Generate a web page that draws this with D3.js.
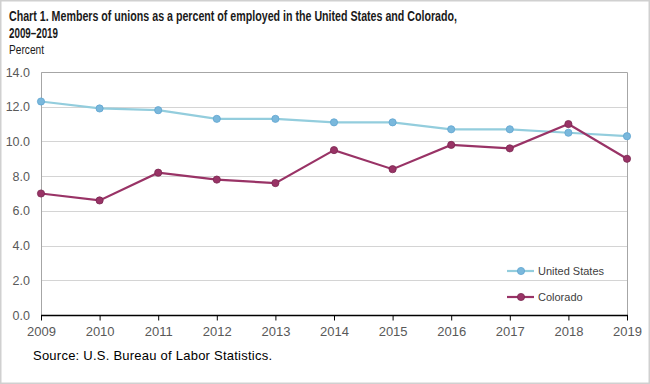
<!DOCTYPE html>
<html>
<head>
<meta charset="utf-8">
<script src="https://cdn.jsdelivr.net/npm/d3@7"></script>
<style>
  body { margin: 0; background: #fff; }
  svg { display: block; font-family: "Liberation Sans", Arial, sans-serif; }
</style>
</head>
<body>
<script>
var years = ["2009", "2010", "2011", "2012", "2013", "2014", "2015", "2016", "2017", "2018", "2019"];
var unitedStates = [12.3, 11.9, 11.8, 11.3, 11.3, 11.1, 11.1, 10.7, 10.7, 10.5, 10.3];
var colorado = [7.0, 6.6, 8.2, 7.8, 7.6, 9.5, 8.4, 9.8, 9.6, 11.0, 9.0];
var yTicks = [0, 2, 4, 6, 8, 10, 12, 14];

var series = [
  { name: "United States", values: unitedStates, color: "#93cddd", marker: "#7ab8dc", stroke: "#5fa4d0" },
  { name: "Colorado", values: colorado, color: "#993366", marker: "#993366", stroke: "#7a2850" }
];

var width = 650, height = 384;
var margin = { top: 72, right: 23, bottom: 69, left: 41 };

var svg = d3.select("body").append("svg")
    .attr("width", width)
    .attr("height", height);

// outer frame
svg.append("rect")
    .attr("x", 0.5).attr("y", 0.5)
    .attr("width", width - 1).attr("height", height - 1)
    .attr("fill", "none").attr("stroke", "#d0d0d0").attr("stroke-width", 2);

var x = d3.scalePoint()
    .domain(years)
    .range([margin.left, width - margin.right]);

var y = d3.scaleLinear()
    .domain([0, 14])
    .range([height - margin.bottom, margin.top]);

// gridlines
svg.append("g")
  .selectAll("line")
    .data(yTicks.filter(function(d) { return d > 0; }))
  .enter().append("line")
    .attr("x1", margin.left).attr("x2", width - margin.right)
    .attr("y1", function(d) { return Math.round(y(d)) + 0.5; })
    .attr("y2", function(d) { return Math.round(y(d)) + 0.5; })
    .attr("stroke", "#d4d4d4");

// plot border (left, top, right)
svg.append("path")
    .attr("d", "M" + (margin.left + 0.5) + "," + (height - margin.bottom) +
      "V" + (margin.top + 0.5) + "H" + (width - margin.right + 0.5) + "V" + (height - margin.bottom))
    .attr("fill", "none").attr("stroke", "#a6a6a6");

// y axis labels
svg.append("g")
  .selectAll("text")
    .data(yTicks)
  .enter().append("text")
    .attr("x", margin.left - 11)
    .attr("y", function(d) { return y(d) + 4.5; })
    .attr("text-anchor", "end")
    .attr("font-size", 12.5)
    .attr("fill", "#595959")
    .text(function(d) { return d.toFixed(1); });

// x axis
var xAxis = svg.append("g")
    .attr("transform", "translate(0," + (Math.round(y(0)) + 0.5) + ")")
    .call(d3.axisBottom(x).tickSize(5).tickPadding(6));
xAxis.select(".domain").attr("stroke", "#000").attr("stroke-width", 1.3)
    .attr("d", "M" + margin.left + ",0H" + (width - margin.right + 1));
xAxis.selectAll(".tick line").attr("stroke", "#000");
xAxis.selectAll(".tick text")
    .attr("font-size", 13)
    .attr("fill", "#595959")
    .attr("font-family", "\"Liberation Sans\", Arial, sans-serif");

var line = d3.line()
    .x(function(d, i) { return x(years[i]); })
    .y(function(d) { return y(d); });

series.forEach(function(s) {
  svg.append("path")
      .datum(s.values)
      .attr("fill", "none")
      .attr("stroke", s.color)
      .attr("stroke-width", 2.2)
      .attr("d", line);
  svg.append("g")
    .selectAll("circle")
      .data(s.values)
    .enter().append("circle")
      .attr("cx", function(d, i) { return x(years[i]); })
      .attr("cy", function(d) { return y(d); })
      .attr("r", 3.6)
      .attr("fill", s.marker)
      .attr("stroke", s.stroke)
      .attr("stroke-width", 0.8);
});

// legend
var legend = svg.append("g")
  .selectAll("g")
    .data(series)
  .enter().append("g")
    .attr("transform", function(d, i) { return "translate(507," + (271 + i * 26) + ")"; });
legend.append("line")
    .attr("x1", 0).attr("x2", 27)
    .attr("stroke", function(d) { return d.color; })
    .attr("stroke-width", 2.2);
legend.append("circle")
    .attr("cx", 14).attr("r", 3.6)
    .attr("fill", function(d) { return d.marker; })
    .attr("stroke", function(d) { return d.stroke; })
    .attr("stroke-width", 0.8);
legend.append("text")
    .attr("x", 31).attr("y", 4)
    .attr("font-size", 11)
    .attr("fill", "#404040")
    .text(function(d) { return d.name; });

// titles
var narrow = "\"Liberation Sans Narrow\", \"Arial Narrow\", \"Liberation Sans\", sans-serif";
svg.append("text")
    .attr("x", 9).attr("y", 21)
    .attr("font-family", narrow)
    .attr("font-weight", "bold")
    .attr("font-size", 15)
    .attr("fill", "#1a1a1a")
    .attr("textLength", 448).attr("lengthAdjust", "spacingAndGlyphs")
    .text("Chart 1. Members of unions as a percent of employed in the United  States and Colorado,");
svg.append("text")
    .attr("x", 9).attr("y", 38)
    .attr("font-family", narrow)
    .attr("font-weight", "bold")
    .attr("font-size", 15)
    .attr("fill", "#1a1a1a")
    .attr("textLength", 49).attr("lengthAdjust", "spacingAndGlyphs")
    .text("2009\u20132019");
svg.append("text")
    .attr("x", 9).attr("y", 54)
    .attr("font-family", narrow)
    .attr("font-size", 13)
    .attr("fill", "#1a1a1a")
    .attr("textLength", 35).attr("lengthAdjust", "spacingAndGlyphs")
    .text("Percent");

svg.append("text")
    .attr("x", 33).attr("y", 360)
    .attr("font-size", 13)
    .attr("fill", "#000")
    .attr("textLength", 239).attr("lengthAdjust", "spacing")
    .text("Source: U.S. Bureau  of Labor Statistics.");
</script>
</body>
</html>
